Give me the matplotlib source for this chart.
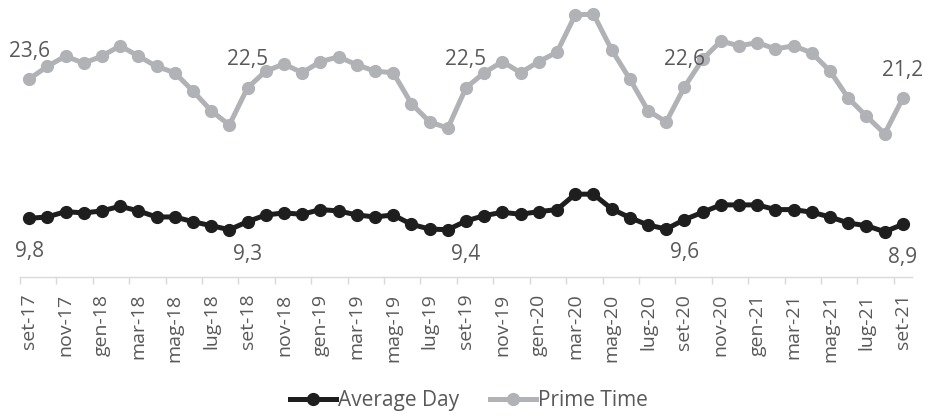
import numpy as np
import matplotlib.pyplot as plt

plt.rcParams['font.family'] = ['Open Sans', 'DejaVu Sans']

# months from set-17 to set-21
months = ['set-17', 'ott-17', 'nov-17', 'dic-17', 'gen-18', 'feb-18', 'mar-18', 'apr-18', 'mag-18', 'giu-18',
          'lug-18', 'ago-18', 'set-18', 'ott-18', 'nov-18', 'dic-18', 'gen-19', 'feb-19', 'mar-19', 'apr-19',
          'mag-19', 'giu-19', 'lug-19', 'ago-19', 'set-19', 'ott-19', 'nov-19', 'dic-19', 'gen-20', 'feb-20',
          'mar-20', 'apr-20', 'mag-20', 'giu-20', 'lug-20', 'ago-20', 'set-20', 'ott-20', 'nov-20', 'dic-20',
          'gen-21', 'feb-21', 'mar-21', 'apr-21', 'mag-21', 'giu-21', 'lug-21', 'ago-21', 'set-21']

average_day = [9.8, 10.0, 10.8, 10.6, 10.9, 11.6, 10.9, 10.0, 10.0, 9.3,
               8.7, 8.1, 9.3, 10.3, 10.6, 10.4, 11.1, 10.9, 10.3, 10.0,
               10.3, 8.9, 8.2, 8.1, 9.4, 10.2, 10.7, 10.4, 10.8, 11.1,
               13.4, 13.4, 11.2, 9.9, 8.8, 8.2, 9.6, 10.7, 11.8, 11.8,
               11.8, 11.1, 11.1, 10.7, 10.0, 9.1, 8.7, 7.8, 8.9]

prime_time = [23.6, 25.2, 26.5, 25.6, 26.5, 27.8, 26.5, 25.2, 24.4, 22.1,
              19.6, 17.8, 22.5, 24.6, 25.5, 24.4, 25.8, 26.4, 25.4, 24.6,
              24.4, 20.5, 18.2, 17.4, 22.5, 24.4, 25.8, 24.4, 25.8, 27.0,
              31.7, 31.8, 27.3, 23.6, 19.6, 18.2, 22.6, 26.1, 28.4, 27.8,
              28.2, 27.4, 27.8, 26.9, 24.6, 21.2, 18.9, 16.7, 21.2]

# only September points carry a value label
labelled = [0, 12, 24, 36, 48]

x = np.arange(len(months))
black = '#1e1e1e'
grey = '#b1b2b6'
text_col = '#595959'

fig = plt.figure(figsize=(9.29, 4.16), dpi=100)
ax = fig.add_axes([20 / 929, 139 / 416, 892 / 929, 272 / 416])
ax2 = ax.twinx()

ax.plot(x, average_day, color=black, linewidth=3.6, marker='o', markersize=8.5,
        label='Average Day', zorder=3)
ax2.plot(x, prime_time, color=grey, linewidth=3.6, marker='o', markersize=8.5,
         label='Prime Time', zorder=3)

ax.set_ylim(1.05, 41.6)
ax2.set_ylim(-1.39, 32.95)
ax.set_xlim(-0.5, 48.5)

for i in labelled:
    ax.annotate(f'{average_day[i]:.1f}'.replace('.', ','), (x[i], average_day[i]),
                xytext=(0, -24), textcoords='offset points', ha='center', va='center',
                fontsize=15, color=text_col)
    ax2.annotate(f'{prime_time[i]:.1f}'.replace('.', ','), (x[i], prime_time[i]),
                 xytext=(0, 20), textcoords='offset points', ha='center', va='center',
                 fontsize=15, color=text_col)

# category axis: labels every two months, ticks between categories
ax.set_xticks(x[::2])
ax.set_xticklabels(months[::2], rotation=90, fontsize=14, color=text_col)
ax.set_xticks(np.arange(-0.5, 48.5, 2), minor=True)
ax.tick_params(axis='x', which='major', length=0, pad=12)
ax.tick_params(axis='x', which='minor', length=5, width=1, color='#d9d9d9')

for a in (ax, ax2):
    a.set_yticks([])
    for side in ('top', 'left', 'right'):
        a.spines[side].set_visible(False)
ax2.spines['bottom'].set_visible(False)
ax.spines['bottom'].set_color('#d9d9d9')
ax.spines['bottom'].set_linewidth(1)

h1, l1 = ax.get_legend_handles_labels()
h2, l2 = ax2.get_legend_handles_labels()
fig.legend(h1 + h2, l1 + l2, loc='center', bbox_to_anchor=(0.505, 0.037), ncol=2,
           frameon=False, fontsize=15, labelcolor=text_col, handlelength=2.2,
           handletextpad=0.1, columnspacing=1.5)

fig.savefig('out.png', dpi=100)
